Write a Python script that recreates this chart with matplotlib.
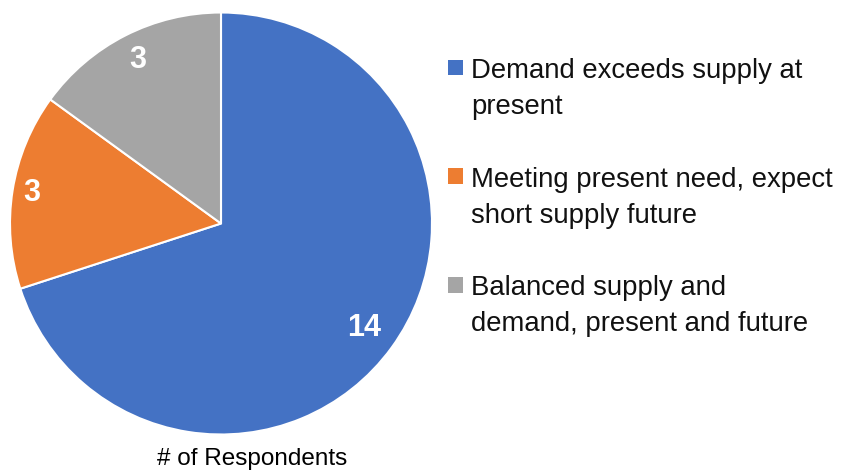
import matplotlib
matplotlib.use("Agg")
import matplotlib.pyplot as plt
from matplotlib.patches import Rectangle
import numpy as np

plt.rcParams["font.family"] = ["Liberation Sans", "DejaVu Sans"]

# Encuesta: estado de oferta / demanda
categorias = [
    "Demand exceeds supply at\npresent",
    "Meeting present need, expect\nshort supply future",
    "Balanced supply and\ndemand, present and future",
]
respuestas = [14, 3, 3]
colores = ["#4472C4", "#ED7D31", "#A5A5A5"]
titulo = "# of Respondents"

W, H = 841, 473
fig = plt.figure(figsize=(W / 100, H / 100), dpi=100)

# Pie en pixeles: centro (221, 223.5), radio 211
cx, cy, r = 221, 223.5, 211
m = 1.04
ax = fig.add_axes([(cx - r * m) / W, (H - cy - r * m) / H, 2 * r * m / W, 2 * r * m / H])

wedges, _ = ax.pie(respuestas, colors=colores, startangle=90, counterclock=False,
                   radius=1, wedgeprops=dict(edgecolor="white", linewidth=1.5))
ax.set_xlim(-m, m)
ax.set_ylim(-m, m)
ax.set_aspect("equal")
ax.axis("off")

# Etiquetas de valor dentro de cada porcion
dist = [0.84, 0.91, 0.87]
for w, v, d in zip(wedges, respuestas, dist):
    ang = np.deg2rad((w.theta1 + w.theta2) / 2)
    ax.text(d * np.cos(ang), d * np.sin(ang), str(v), color="white",
            fontsize=22, fontweight="bold", ha="center", va="center")

# Titulo debajo del pie
fig.text(252 / W, 1 - 465 / H, titulo, fontsize=17.5, ha="center", va="baseline")

# Leyenda a la derecha
base0 = 78
paso = 108.5
interlinea = 36
for i, (lab, col) in enumerate(zip(categorias, colores)):
    b = base0 + i * paso
    fig.add_artist(Rectangle((448 / W, 1 - (b - 2.5) / H), 15.5 / W, 15.5 / H,
                             transform=fig.transFigure, facecolor=col, edgecolor="none"))
    for j, linea in enumerate(lab.split("\n")):
        fig.text(471 / W, 1 - (b + j * interlinea) / H, linea, fontsize=19.8,
                 ha="left", va="baseline", color="#111111")

fig.savefig("out.png", dpi=100)
